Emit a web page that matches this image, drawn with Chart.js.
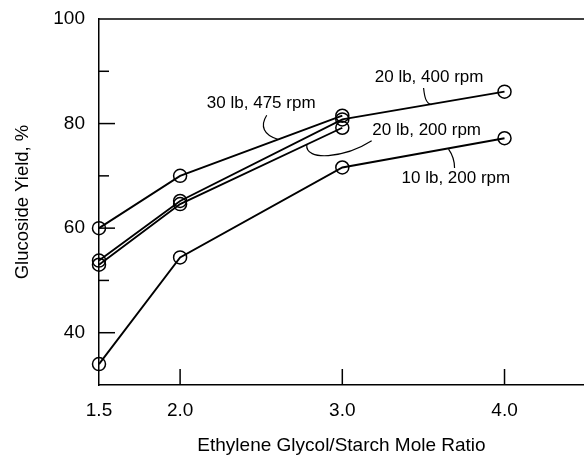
<!DOCTYPE html>
<html>
<head>
<meta charset="utf-8">
<script src="https://cdn.jsdelivr.net/npm/chart.js@4.4.0/dist/chart.umd.min.js"></script>
<style>
  html, body { margin: 0; padding: 0; background: #fff; }
  #wrap { width: 584px; height: 455px; }
</style>
</head>
<body>
<div id="wrap"><canvas id="yieldChart" width="584" height="455"></canvas></div>
<script>
const moleRatio = [1.5, 2.0, 3.0, 4.0];
const yield30lb475 = [60, 70, 81.5];
const yield20lb400 = [53.8, 65.2, 80.8, 86.1];
const yield20lb200 = [53.0, 64.6, 79.2];
const yield10lb200 = [34.0, 54.4, 71.6, 77.2];

const xTickValues = [1.5, 2.0, 3.0, 4.0];
const yTickLabels = [40, 60, 80, 100];

// curve labels with their leader lines (bezier: start, cp1, cp2, end), all in data units
const curveLabels = [
    { text: '30 lb, 475 rpm', at: [2.50, 83.9], leader: [[2.534, 81.6], [2.491, 79.5], [2.516, 77.8], [2.602, 77.0]] },
    { text: '20 lb, 400 rpm', at: [3.535, 88.9], leader: [[3.501, 86.8], [3.507, 85.1], [3.514, 83.9], [3.55, 83.6]] },
    { text: '20 lb, 200 rpm', at: [3.52, 78.8], leader: [[3.181, 76.7], [3.015, 73.4], [2.768, 72.7], [2.781, 76.0]] },
    { text: '10 lb, 200 rpm', at: [3.70, 69.6], leader: [[3.692, 71.5], [3.692, 73.0], [3.68, 74.0], [3.655, 75.1]] }
];

const toPoints = vals => vals.map((v, i) => ({ x: moleRatio[i], y: v }));

const makeSet = (label, vals) => ({
    label: label,
    data: toPoints(vals),
    borderColor: '#000',
    borderWidth: 1.9,
    pointRadius: 6.5,
    pointBorderWidth: 1.5,
    pointBorderColor: '#000',
    pointBackgroundColor: 'rgba(0,0,0,0)',
    tension: 0,
    clip: false
});

const guides = {
    id: 'guides',
    afterDraw(chart) {
        const { ctx, chartArea: a, scales: { x, y } } = chart;
        ctx.save();
        ctx.strokeStyle = '#000';
        ctx.lineWidth = 1.5;

        // top frame line
        ctx.beginPath();
        ctx.moveTo(a.left, a.top);
        ctx.lineTo(a.right, a.top);
        ctx.stroke();

        // inward tick marks
        for (let v = 40; v < 100; v += 10) {
            const py = y.getPixelForValue(v);
            const len = yTickLabels.includes(v) ? 16 : 10;
            ctx.beginPath();
            ctx.moveTo(a.left, py);
            ctx.lineTo(a.left + len, py);
            ctx.stroke();
        }
        xTickValues.slice(1).forEach(v => {
            const px = x.getPixelForValue(v);
            ctx.beginPath();
            ctx.moveTo(px, a.bottom);
            ctx.lineTo(px, a.bottom - 16);
            ctx.stroke();
        });

        // leaders and labels
        ctx.lineWidth = 1.2;
        ctx.fillStyle = '#000';
        ctx.font = '17px "Liberation Sans", Arial, sans-serif';
        ctx.textAlign = 'center';
        ctx.textBaseline = 'middle';
        curveLabels.forEach(c => {
            const p = c.leader.map(q => [x.getPixelForValue(q[0]), y.getPixelForValue(q[1])]);
            ctx.beginPath();
            ctx.moveTo(p[0][0], p[0][1]);
            ctx.bezierCurveTo(p[1][0], p[1][1], p[2][0], p[2][1], p[3][0], p[3][1]);
            ctx.stroke();
            ctx.fillText(c.text, x.getPixelForValue(c.at[0]), y.getPixelForValue(c.at[1]));
        });
        ctx.restore();
    }
};

new Chart(document.getElementById('yieldChart'), {
    type: 'line',
    data: {
        datasets: [
            makeSet('30 lb, 475 rpm', yield30lb475),
            makeSet('20 lb, 400 rpm', yield20lb400),
            makeSet('20 lb, 200 rpm', yield20lb200),
            makeSet('10 lb, 200 rpm', yield10lb200)
        ]
    },
    options: {
        responsive: false,
        animation: false,
        layout: { autoPadding: false, padding: { top: 19, right: 0, left: 0, bottom: 0 } },
        plugins: { legend: { display: false }, tooltip: { enabled: false } },
        scales: {
            x: {
                type: 'linear',
                min: 1.5,
                max: 4.49,
                afterBuildTicks: scale => { scale.ticks = xTickValues.map(v => ({ value: v })); },
                afterFit: scale => {
                    scale.height = 70;
                    scale.paddingLeft = 0;
                    scale.paddingRight = 0;
                },
                grid: { display: false, drawTicks: false },
                border: { color: '#000', width: 1.5 },
                ticks: {
                    autoSkip: false,
                    maxRotation: 0,
                    padding: 14,
                    color: '#000',
                    font: { family: '"Liberation Sans", Arial, sans-serif', size: 19 },
                    callback: v => v.toFixed(1)
                },
                title: {
                    display: true,
                    text: 'Ethylene Glycol/Starch Mole Ratio',
                    color: '#000',
                    padding: { top: 0, bottom: 0 },
                    font: { family: '"Liberation Sans", Arial, sans-serif', size: 19, lineHeight: 1 }
                }
            },
            y: {
                min: 30,
                max: 100,
                afterFit: scale => {
                    scale.width = 99;
                    scale.paddingTop = 0;
                    scale.paddingBottom = 0;
                },
                grid: { display: false, drawTicks: false },
                border: { color: '#000', width: 1.5 },
                ticks: {
                    stepSize: 10,
                    autoSkip: false,
                    padding: 14,
                    color: '#000',
                    font: { family: '"Liberation Sans", Arial, sans-serif', size: 19 },
                    callback: v => yTickLabels.includes(v) ? String(v) : ''
                },
                title: {
                    display: true,
                    text: 'Glucoside Yield, %',
                    color: '#000',
                    padding: { top: 12, bottom: 0 },
                    font: { family: '"Liberation Sans", Arial, sans-serif', size: 18.5 }
                }
            }
        }
    },
    plugins: [guides]
});
</script>
</body>
</html>
